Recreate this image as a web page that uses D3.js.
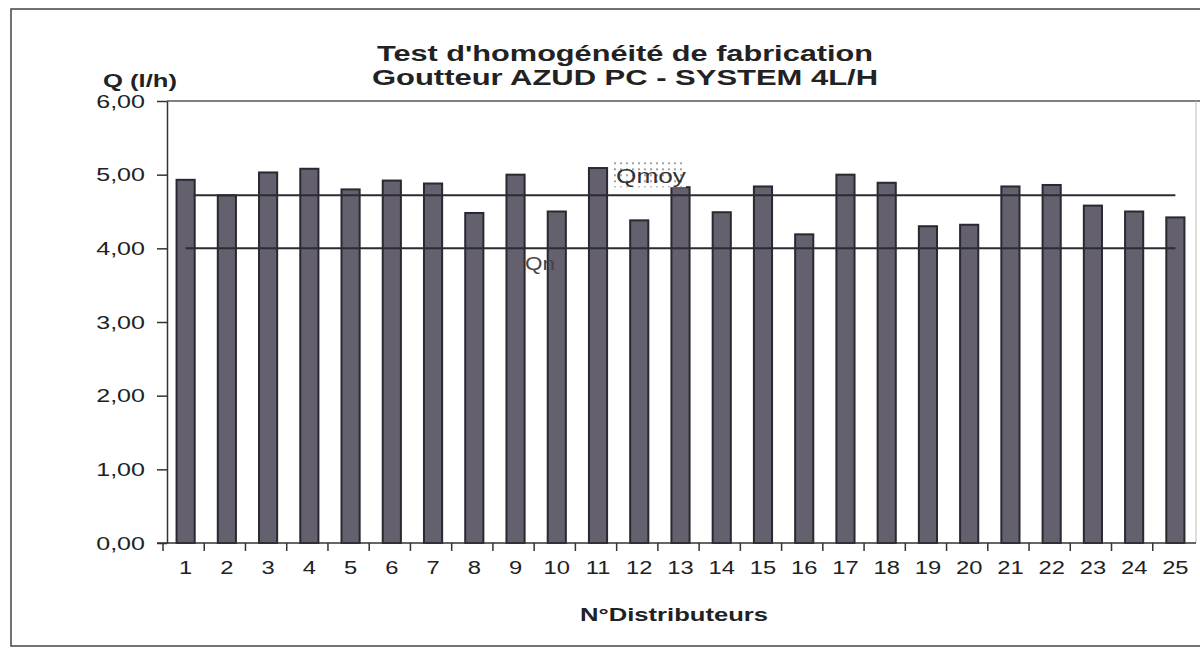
<!DOCTYPE html>
<html>
<head>
<meta charset="utf-8">
<script src="https://cdn.jsdelivr.net/npm/d3@7"></script>
<style>
  body { margin: 0; background: #fff; }
  svg { display: block; font-family: Arial, "Liberation Sans", sans-serif; }
</style>
</head>
<body>
<svg id="chart" width="1200" height="648"></svg>
<script>
// Données
const distributeurs = d3.range(1, 26);
const debits = [4.93, 4.72, 5.03, 5.08, 4.80, 4.92, 4.88, 4.48, 5.00, 4.50,
                5.09, 4.38, 4.83, 4.49, 4.84, 4.19, 5.00, 4.89, 4.30, 4.32,
                4.84, 4.86, 4.58, 4.50, 4.42];
const refLines = [
  { name: "Qmoy", value: 4.72 },
  { name: "Qn", value: 4.00 }
];
const yTicks = [0, 1, 2, 3, 4, 5, 6];
const titleLines = ["Test d'homogénéité de fabrication", "Goutteur AZUD PC - SYSTEM 4L/H"];

const FONT = "Arial, 'Liberation Sans', sans-serif";
const STRETCH = 1.32; // le scan est étiré horizontalement

const svg = d3.select("#chart");
const plot = { left: 167, right: 1196, top: 101, bottom: 543 };

const x = d3.scaleBand()
  .domain(distributeurs)
  .range([165, plot.right])
  .padding(0);

const y = d3.scaleLinear()
  .domain([0, 6])
  .range([plot.bottom, plot.top]);

const fmt = v => d3.format(".2f")(v).replace(".", ",");

// cadre extérieur
svg.append("rect")
  .attr("x", 11).attr("y", 9)
  .attr("width", 1200).attr("height", 637)
  .attr("fill", "none")
  .attr("stroke", "#444")
  .attr("stroke-width", 1.5);

// motif pointillé pour l'étiquette Qmoy
const defs = svg.append("defs");
defs.append("pattern")
  .attr("id", "dots")
  .attr("width", 6).attr("height", 6)
  .attr("patternUnits", "userSpaceOnUse")
  .append("circle")
  .attr("cx", 3).attr("cy", 3).attr("r", 0.9)
  .attr("fill", "#777");

// cadre de la zone de tracé
svg.append("line")
  .attr("x1", plot.left).attr("x2", 1200)
  .attr("y1", plot.top).attr("y2", plot.top)
  .attr("stroke", "#555").attr("stroke-width", 1.5);
svg.append("line")
  .attr("x1", plot.right).attr("x2", plot.right)
  .attr("y1", plot.top).attr("y2", plot.bottom)
  .attr("stroke", "#bbb").attr("stroke-width", 1);

// barres
const barW = x.bandwidth() * 0.44;
svg.append("g")
  .selectAll("rect")
  .data(debits)
  .join("rect")
  .attr("x", (d, i) => x(distributeurs[i]) + (x.bandwidth() - barW) / 2)
  .attr("y", d => y(d))
  .attr("width", barW)
  .attr("height", d => y(0) - y(d))
  .attr("fill", "#65606d")
  .attr("stroke", "#2a2830")
  .attr("stroke-width", 2);

// lignes Qmoy et Qn
const x1 = x(distributeurs[0]) + x.bandwidth() / 2;
const x2 = x(distributeurs[distributeurs.length - 1]) + x.bandwidth() / 2;
svg.append("g")
  .selectAll("line")
  .data(refLines)
  .join("line")
  .attr("x1", d => d.name === "Qmoy" ? x1 + 8 : x1)
  .attr("x2", x2)
  .attr("y1", d => y(d.value))
  .attr("y2", d => y(d.value))
  .attr("stroke", "#2b2b33")
  .attr("stroke-width", 2);

// étiquette Qmoy
const qm = svg.append("g").attr("transform", `translate(612, ${y(4.72) - 35})`);
qm.append("rect")
  .attr("width", 74).attr("height", 27)
  .attr("fill", "#fff");
qm.append("rect")
  .attr("width", 74).attr("height", 27)
  .attr("fill", "url(#dots)");
qm.append("text")
  .attr("x", 4).attr("y", 23)
  .attr("font-size", 20)
  .attr("fill", "#333")
  .attr("textLength", 70)
  .attr("lengthAdjust", "spacingAndGlyphs")
  .text("Qmoy");

// étiquette Qn
svg.append("text")
  .attr("x", 525).attr("y", y(4.00) + 22)
  .attr("font-size", 19)
  .attr("fill", "#444")
  .attr("textLength", 30)
  .attr("lengthAdjust", "spacingAndGlyphs")
  .text("Qn");

// axe Y
const yAxis = svg.append("g")
  .attr("transform", `translate(${plot.left},0)`)
  .call(d3.axisLeft(y).tickValues(yTicks).tickFormat(fmt).tickSize(10).tickPadding(12).tickSizeOuter(0));
yAxis.select(".domain").attr("stroke", "#333").attr("stroke-width", 1.5);
yAxis.selectAll(".tick line").attr("stroke", "#333").attr("stroke-width", 1.5);
yAxis.selectAll(".tick text")
  .attr("font-size", 19)
  .attr("font-family", FONT)
  .attr("fill", "#222")
  .attr("x", -22 / STRETCH)
  .attr("transform", `scale(${STRETCH},1)`);

// axe X
const xAxis = svg.append("g")
  .attr("transform", `translate(0,${plot.bottom})`)
  .call(d3.axisBottom(x).tickSize(0).tickPadding(18).tickSizeOuter(0));
xAxis.select(".domain").attr("stroke", "#333").attr("stroke-width", 1.5)
  .attr("d", `M${plot.left - 10},0H${plot.right}`);
xAxis.selectAll(".tick text")
  .attr("font-size", 18)
  .attr("font-family", FONT)
  .attr("fill", "#222")
  .attr("transform", `scale(${STRETCH},1)`);

// graduations entre catégories
svg.append("g")
  .selectAll("line")
  .data(distributeurs)
  .join("line")
  .attr("x1", d => x(d) - 2)
  .attr("x2", d => x(d) - 2)
  .attr("y1", plot.bottom)
  .attr("y2", plot.bottom + 8)
  .attr("stroke", "#333")
  .attr("stroke-width", 1.5);

// titres
const titleWidths = [496, 506];
svg.append("g")
  .selectAll("text")
  .data(titleLines)
  .join("text")
  .attr("x", 625)
  .attr("y", (d, i) => 61 + i * 24)
  .attr("text-anchor", "middle")
  .attr("font-size", 22)
  .attr("font-weight", "bold")
  .attr("fill", "#222")
  .attr("textLength", (d, i) => titleWidths[i])
  .attr("lengthAdjust", "spacingAndGlyphs")
  .text(d => d);

svg.append("text")
  .attr("x", 140).attr("y", 87)
  .attr("text-anchor", "middle")
  .attr("font-size", 19)
  .attr("font-weight", "bold")
  .attr("fill", "#222")
  .attr("textLength", 74)
  .attr("lengthAdjust", "spacingAndGlyphs")
  .text("Q (l/h)");

svg.append("text")
  .attr("x", 674).attr("y", 621)
  .attr("text-anchor", "middle")
  .attr("font-size", 18)
  .attr("font-weight", "bold")
  .attr("fill", "#222")
  .attr("textLength", 188)
  .attr("lengthAdjust", "spacingAndGlyphs")
  .text("N°Distributeurs");
</script>
</body>
</html>
